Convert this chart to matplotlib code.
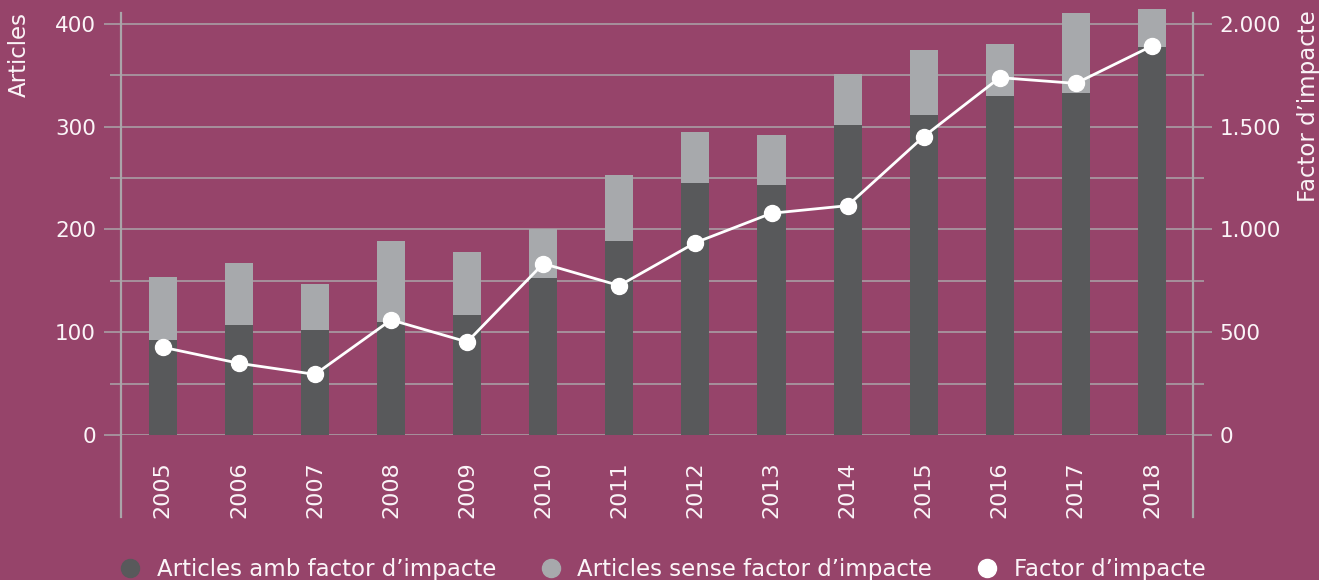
import numpy as np
import matplotlib
matplotlib.use('Agg')
import matplotlib.pyplot as plt
from matplotlib.lines import Line2D

# Articles per year, split by whether the journal has an impact factor
YEARS = ['2005', '2006', '2007', '2008', '2009', '2010', '2011',
         '2012', '2013', '2014', '2015', '2016', '2017', '2018']
AMB_FACTOR = [92, 107, 102, 110, 117, 153, 189, 245, 243, 302, 311, 330, 333, 378]
SENSE_FACTOR = [62, 60, 45, 79, 61, 47, 64, 50, 49, 49, 64, 51, 78, 37]
FACTOR_IMPACTE = [427, 349, 295, 560, 453, 834, 727, 936, 1079, 1116, 1452, 1739, 1711, 1893]

LEFT_TICKS = [0, 100, 200, 300, 400]
RIGHT_TICKS = [0, 500, 1000, 1500, 2000]
RIGHT_LABELS = ['0', '500', '1.000', '1.500', '2.000']

BG = '#96446a'
DARK = '#58595b'
LIGHT = '#a7a9ac'
GRID = '#aaa5a9'
TXT = '#fbf5f8'
FS = 15.5      # tick labels
FS_LAB = 16.5  # axis titles and legend

plt.rcParams['font.family'] = ['DejaVu Sans']

fig = plt.figure(figsize=(13.19, 5.8), dpi=100, facecolor=BG)
ax = fig.add_axes([121 / 1319, 145 / 580, 1072 / 1319, 422 / 580])
ax.set_facecolor(BG)

x = np.arange(len(YEARS))
ymax = 410.7
ax.set_xlim(-0.55, len(YEARS) - 1 + 0.54)
ax.set_ylim(0, ymax)

ax.bar(x, AMB_FACTOR, width=0.37, color=DARK, zorder=2)
ax.bar(x, SENSE_FACTOR, width=0.37, bottom=AMB_FACTOR, color=LIGHT,
       zorder=2, clip_on=False)

# grid every 50
ax.set_yticks(LEFT_TICKS)
ax.set_yticks([50, 150, 250, 350], minor=True)
ax.yaxis.grid(True, which='both', color=GRID, linewidth=1.1)
ax.set_axisbelow(True)
for s in ax.spines.values():
    s.set_visible(False)
ax.tick_params(axis='y', which='major', length=12, width=1.1, color=GRID,
               labelcolor=TXT, labelsize=FS, pad=6)
ax.tick_params(axis='y', which='minor', length=8, width=1.1, color=GRID)
ax.set_xticks(x)
ax.set_xticklabels(YEARS, rotation=90, color=TXT, fontsize=FS + 0.5)
ax.tick_params(axis='x', length=0, pad=19)

# vertical axis lines running down past the year labels
for xa in (0, 1):
    ax.plot([xa, xa], [-0.195, 1], transform=ax.transAxes, color=GRID,
            linewidth=1.6, clip_on=False, zorder=3)

ax2 = ax.twinx()
ax2.set_ylim(0, ymax * 5)
for s in ax2.spines.values():
    s.set_visible(False)
ax2.set_yticks(RIGHT_TICKS)
ax2.set_yticklabels(RIGHT_LABELS)
ax2.set_yticks([250, 750, 1250, 1750], minor=True)
ax2.tick_params(axis='y', which='major', length=14, width=1.1, color=GRID,
                labelcolor=TXT, labelsize=FS, pad=5)
ax2.tick_params(axis='y', which='minor', length=8, width=1.1, color=GRID)
ax2.plot(x, FACTOR_IMPACTE, color='white', linewidth=2, marker='o',
         markersize=11.5, zorder=5)

fig.text(19 / 1319, 1 - 12 / 580, 'Articles', rotation=90, ha='center',
         va='top', color=TXT, fontsize=FS_LAB)
fig.text(1308 / 1319, 1 - 10 / 580, 'Factor d\u2019impacte', rotation=90,
         ha='center', va='top', color=TXT, fontsize=FS_LAB)

handles = [
    Line2D([], [], linestyle='none', marker='o', markersize=13, color=DARK),
    Line2D([], [], linestyle='none', marker='o', markersize=13, color=LIGHT),
    Line2D([], [], linestyle='none', marker='o', markersize=13, color='white'),
]
labels = ['Articles amb factor d\u2019impacte', 'Articles sense factor d\u2019impacte',
          'Factor d\u2019impacte']
leg = fig.legend(handles, labels, loc='center', bbox_to_anchor=(0.502, 0.018),
                 ncol=3, frameon=False, fontsize=FS_LAB, handlelength=1,
                 handletextpad=0.65, columnspacing=1.9, labelcolor=TXT)

fig.savefig('out.png', dpi=100, facecolor=BG)
